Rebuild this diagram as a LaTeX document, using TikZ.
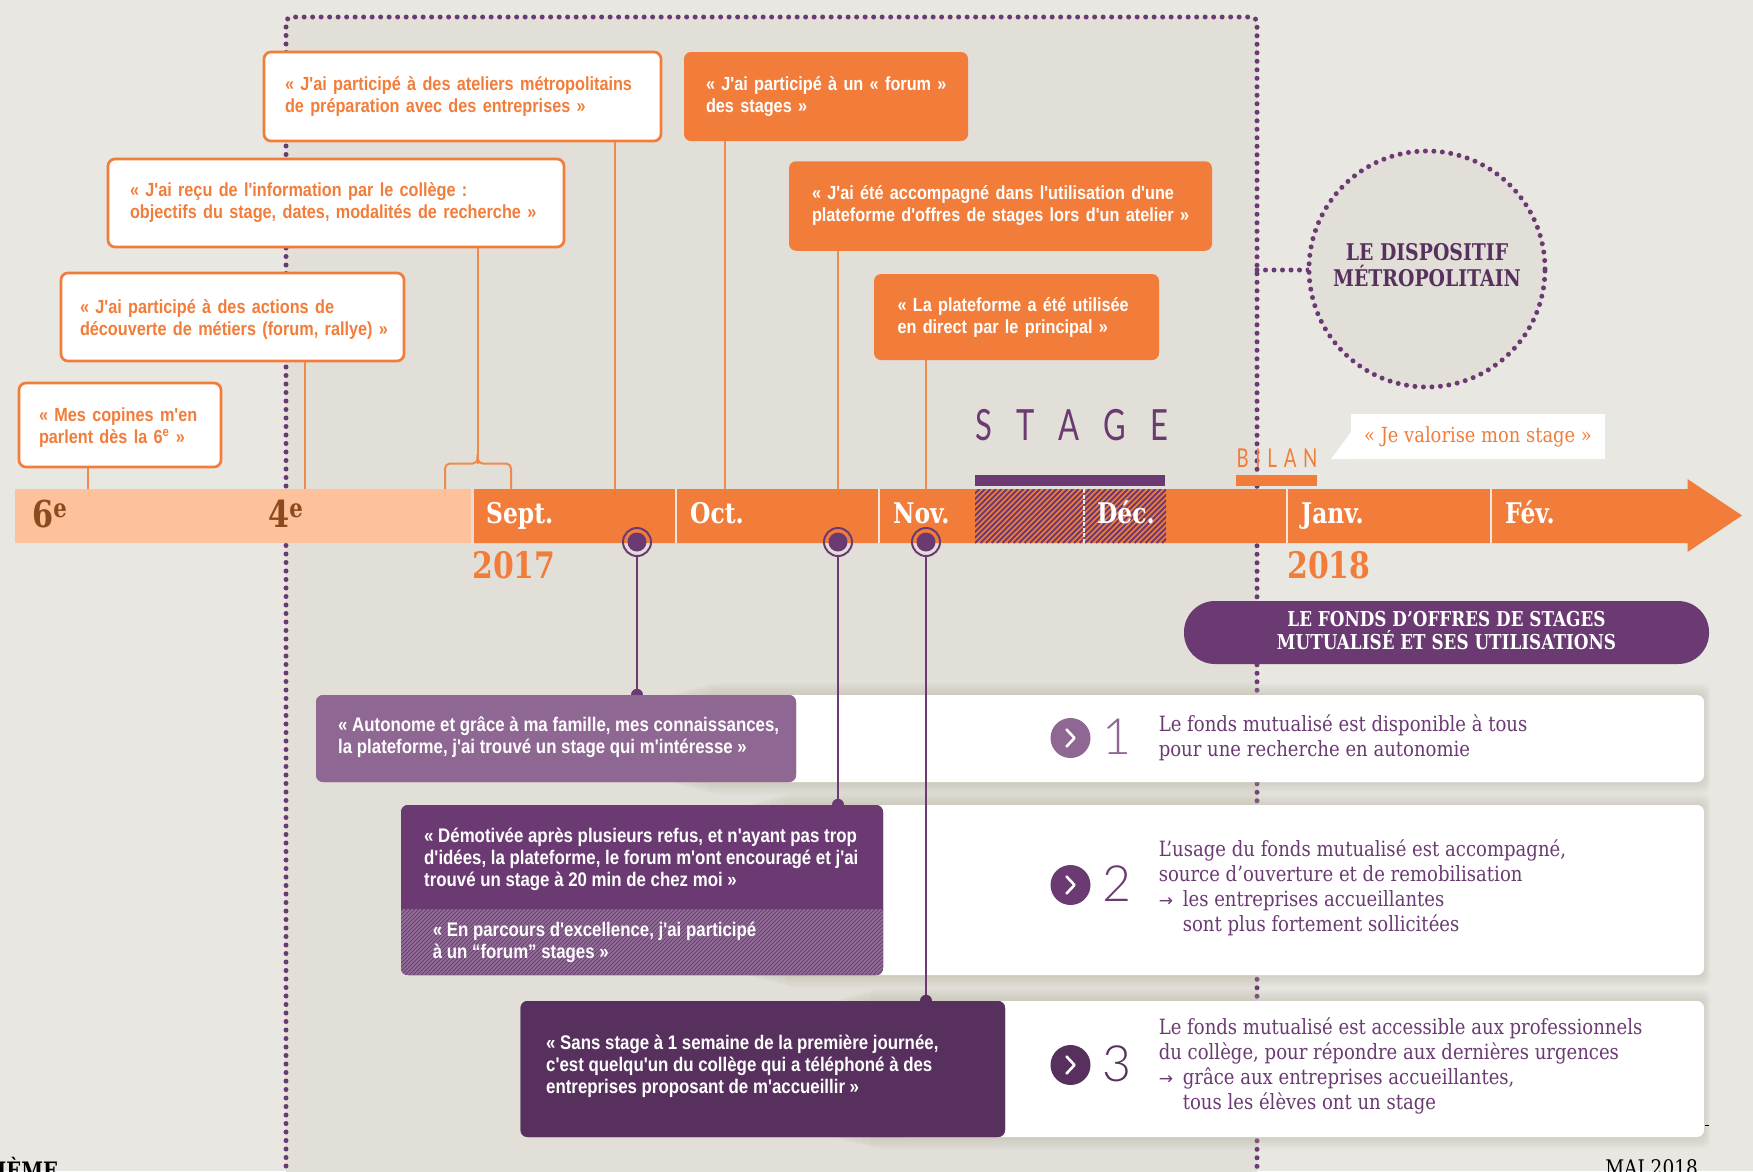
\documentclass[tikz,border=0pt]{standalone}
\usepackage{fontspec}
\newfontfamily\quotefont{Liberation Sans}[FakeStretch=0.855]
\newfontfamily\slabfont{DejaVu Serif}[FakeStretch=0.82]
\newfontfamily\cardfont{DejaVu Serif}[FakeStretch=0.86]
\newfontfamily\thinfont{Lato Light}
\newfontfamily\narrowfont{Lato}[FakeStretch=0.72]
\newfontfamily\arrowfont{DejaVu Sans}
\definecolor{pageBg}{HTML}{E8E7E2}
\definecolor{innerBg}{HTML}{E1DFD8}
\definecolor{barOrange}{HTML}{F27D3A}
\definecolor{barLight}{HTML}{FDC19B}
\definecolor{lineOrange}{HTML}{F08A4C}
\definecolor{brownText}{HTML}{8C4A1E}
\definecolor{purpleMain}{HTML}{6B3A72}
\definecolor{purpleDark}{HTML}{57305E}
\definecolor{purpleMid}{HTML}{8F6793}
\definecolor{purpleHatch}{HTML}{8F6C96}
\definecolor{shadowTone}{HTML}{B5B09C}
\tikzset{
  dotline/.style={purpleMain, line width=5, line cap=round, dash pattern=on 0pt off 8.5pt},
  wbox/.style={draw=barOrange, fill=white, line width=2.7, rounded corners=7, text=barOrange, align=left, font=\quotefont\bfseries\fontsize{19}{22}\selectfont},
  obox/.style={fill=barOrange, rounded corners=7, text=white, align=left, font=\quotefont\bfseries\fontsize{19}{22}\selectfont},
  pbox/.style={rounded corners=7, inner sep=0},
  ptext/.style={text=white, align=left, anchor=west, inner sep=0, font=\quotefont\bfseries\fontsize{19.7}{22}\selectfont},
  card/.style={fill=white, rounded corners=7, inner sep=0},
  cardtext/.style={text=purpleMain, align=left, anchor=west, inner sep=0, font=\cardfont\fontsize{21}{25}\selectfont},
  monthlabel/.style={text=white, anchor=base west, inner sep=0, font=\slabfont\bfseries\fontsize{28.5}{30}\selectfont},
  gradelabel/.style={text=brownText, anchor=base west, inner sep=0, font=\slabfont\bfseries\fontsize{37}{40}\selectfont},
  yearlabel/.style={text=barOrange, anchor=base west, inner sep=0, font=\slabfont\bfseries\fontsize{36.5}{40}\selectfont},
  orangeline/.style={lineOrange, line width=2},
  purpleline/.style={purpleMain, line width=2},
  ring/.style={circle, draw=purpleMain, line width=2, minimum size=28, inner sep=0},
  ringdot/.style={circle, fill=purpleMain, minimum size=19, inner sep=0},
  icon/.style={circle, minimum size=40, inner sep=0},
  chevron/.style={white, line width=2.6, line cap=round, line join=round}
}
\begin{document}
\begin{tikzpicture}[x=1pt,y=-1pt]
\clip (0,0) rectangle (1753,1171);
\fill[pageBg] (0,0) rectangle (1753,1171);
\fill[innerBg, rounded corners=6] (286,17) -- (1257,17) -- (1257,1200) -- (286,1200) -- cycle;
\draw[dotline, rounded corners=6] (286,1200) -- (286,17) -- (1257,17) -- (1257,1200);
% shadows then white cards
\foreach \xa/\ya/\yb in {660/695/782,737/805/975,822/1001/1137}
  \foreach \d in {2,4,...,12}
    \fill[shadowTone, opacity=0.07, rounded corners=8] (\xa+4*\d,\ya-\d) rectangle (1704+\d/2,\yb+\d);
\node[card, minimum width=1004, minimum height=87] (cardOne) at (1202,738.5) {};
\node[card, minimum width=904, minimum height=170] (cardTwo) at (1252,890) {};
\node[card, minimum width=804, minimum height=136] (cardThree) at (1302,1069) {};
% timeline
\fill[barLight] (15,489) rectangle (471,543);
\fill[barOrange] (474,489) -- (1687.5,489) -- (1687.5,479) -- (1742,515.5) -- (1687.5,552) -- (1687.5,543) -- (474,543) -- cycle;
\begin{scope}
\clip (975,489) rectangle (1166,543);
\foreach \x in {920,925.5,...,1170}
  \draw[purpleMain, line width=1.9] (\x,543) -- (\x+54,489);
\end{scope}
\foreach \x in {676,879,1287,1491}
  \draw[pageBg, line width=2.5] (\x,489) -- (\x,543);
\draw[pageBg, line width=2.5, dash pattern=on 4pt off 1.5pt] (1084,489) -- (1084,543);
\fill[purpleMain] (975,475) rectangle (1165,486);
\fill[barOrange] (1236,475) rectangle (1317,486);
\foreach \m/\x in {Sept./486,Oct./690,Nov./893,Déc./1097,Janv./1301,Fév./1505}
  \node[monthlabel] (m\x) at (\x,523) {\m};
\node[gradelabel] (gradeSix) at (32,527) {6\textsuperscript{e}};
\node[gradelabel] (gradeFour) at (268,527) {4\textsuperscript{e}};
\node[yearlabel] (yearA) at (472,578) {2017};
\node[yearlabel] (yearB) at (1287,578) {2018};
% orange quotes above the bar
\coordinate (tickD) at (88,489);
\coordinate (tickC) at (305,489);
\coordinate (tickBl) at (445,489);
\coordinate (tickBr) at (511,489);
\coordinate (braceB) at (477.7,463.5);
\coordinate (tickA) at (615,489);
\coordinate (tickF) at (725,489);
\coordinate (tickG) at (838,489);
\coordinate (tickH) at (926,489);
\node[wbox, minimum width=397, minimum height=89, inner xsep=21, text width=355] (boxA) at (462.5,96.5) {\mbox{« J'ai participé à des ateliers métropolitains}\\de préparation avec des entreprises »};
\node[wbox, minimum width=456, minimum height=88, inner xsep=22, text width=412] (boxB) at (336,203) {« J'ai reçu de l'information par le collège :\\\mbox{objectifs du stage, dates, modalités de recherche »}};
\node[wbox, minimum width=343, minimum height=88, inner xsep=19, text width=305] (boxC) at (232.5,317) {\rule{0pt}{18pt}« J'ai participé à des actions de\\\mbox{découverte de métiers (forum, rallye) »}};
\node[wbox, minimum width=202, minimum height=84, inner xsep=20, text width=162] (boxD) at (120,425) {\rule{0pt}{18pt}« Mes copines m'en\\parlent dès la 6\textsuperscript{e} »};
\node[obox, minimum width=284, minimum height=89, inner xsep=22, text width=240] (boxF) at (826,96.5) {\mbox{« J'ai participé à un « forum »}\\des stages »};
\node[obox, minimum width=423, minimum height=89.5, inner xsep=23, text width=377] (boxG) at (1000.5,206) {« J'ai été accompagné dans l'utilisation d'une\\\mbox{plateforme d'offres de stages lors d'un atelier »}};
\node[obox, minimum width=285, minimum height=86, inner xsep=23.5, text width=238] (boxH) at (1016.5,317) {« La plateforme a été utilisée\\en direct par le principal »};
\draw[orangeline] (boxD.south -| tickD) -- (tickD);
\draw[orangeline] (boxC.south -| tickC) -- (tickC);
\draw[orangeline] (boxA.south -| tickA) -- (tickA);
\draw[orangeline] (boxF.south -| tickF) -- (tickF);
\draw[orangeline] (boxG.south -| tickG) -- (tickG);
\draw[orangeline] (boxH.south -| tickH) -- (tickH);
\draw[orangeline] (boxB.south -| braceB) -- (braceB);
\draw[orangeline, rounded corners=5] (tickBl) -- (tickBl |- braceB) -- (braceB) -- ++(0,-9);
\draw[orangeline, rounded corners=5] (tickBr) -- (tickBr |- braceB) -- (braceB) -- ++(0,-9);
% stage and bilan
\node[inner sep=0, text=purpleMain, font=\narrowfont\fontsize{43}{45}\selectfont\addfontfeatures{LetterSpace=58}] (stageLabel) at (1072,425) {STAGE};
\node[inner sep=0, text=barOrange, font=\narrowfont\fontsize{26}{28}\selectfont\addfontfeatures{LetterSpace=26}] (bilanLabel) at (1277,458) {BILAN};
\node[fill=white, inner sep=0, minimum width=254, minimum height=45, text=barOrange, font=\cardfont\fontsize{20.8}{22}\selectfont] (callout) at (1478,436.5) {« Je valorise mon stage »};
\fill[white] (callout.west) ++(0,-4) -- (1331,459) -- (callout.south west) -- cycle;
% dispositif
\draw[dotline] (1257,270) -- (1310,270);
\node[circle, draw=purpleMain, fill=innerBg, line width=5, minimum size=236, inner sep=0, dash pattern=on 0pt off 8.5pt, line cap=round] (dispositif) at (1427,269) {};
\node[inner sep=0, align=center, text=purpleDark, font=\slabfont\bfseries\fontsize{23}{26}\selectfont] (dispositifText) at (1427,265.5) {LE DISPOSITIF\\MÉTROPOLITAIN};
% fonds
\node[fill=purpleMain, rounded corners=31, minimum width=525, minimum height=63, inner sep=0] (fondsPill) at (1446.5,632.5) {};
\node[inner sep=0, align=center, text=white, font=\slabfont\bfseries\fontsize{20.5}{23}\selectfont] (fondsText) at (1446.5,631) {LE FONDS D’OFFRES DE STAGES\\MUTUALISÉ ET SES UTILISATIONS};
% purple quotes
\node[ring] (ringA) at (637,542) {};
\node[ring] (ringB) at (838,542) {};
\node[ring] (ringC) at (926,542) {};
\node[ringdot] at (ringA) {};
\node[ringdot] at (ringB) {};
\node[ringdot] at (ringC) {};
\node[pbox, fill=purpleMid, minimum width=480, minimum height=87] (boxL) at (556,738.5) {};
\node[pbox, fill=purpleMain, minimum width=482, minimum height=170] (boxM) at (642,890) {};
\node[pbox, fill=purpleDark, minimum width=484.5, minimum height=136] (boxN) at (762.75,1069) {};
\draw[purpleline] (ringA) ++(0,14) -- (boxL.north -| ringA);
\draw[purpleline] (ringB) ++(0,14) -- (boxM.north -| ringB);
\draw[purpleline] (ringC) ++(0,14) -- (boxN.north -| ringC);
\fill[purpleMain] (boxL.north -| ringA) circle (6);
\fill[purpleMain] (boxM.north -| ringB) circle (6);
\fill[purpleDark] (boxN.north -| ringC) circle (6);
\node[pbox, fill=purpleMid, minimum width=480, minimum height=87] at (boxL) {};
\node[pbox, fill=purpleMain, minimum width=482, minimum height=170] at (boxM) {};
\node[pbox, fill=purpleDark, minimum width=484.5, minimum height=136] at (boxN) {};
\begin{scope}
\clip (401,909) [rounded corners=7] -- (401,975) -- (883,975) [sharp corners] -- (883,909) -- cycle;
\fill[purpleMain] (401,909) rectangle (883,975);
\foreach \x in {335,339,...,885}
  \draw[purpleHatch, line width=1.8] (\x,975) -- (\x+66,909);
\end{scope}
\node[ptext] (quoteL) at (338,737.5) {« Autonome et grâce à ma famille, mes connaissances,\\la plateforme, j'ai trouvé un stage qui m'intéresse »};
\node[ptext] (quoteM) at (424,859.5) {« Démotivée après plusieurs refus, et n'ayant pas trop\\d'idées, la plateforme, le forum m'ont encouragé et j'ai\\trouvé un stage à 20 min de chez moi »};
\node[ptext] (quoteK) at (432.6,942) {« En parcours d'excellence, j'ai participé\\à un “forum” stages »};
\node[ptext] (quoteN) at (546,1066) {« Sans stage à 1 semaine de la première journée,\\c'est quelqu'un du collège qui a téléphoné à des\\entreprises proposant de m'accueillir »};
% numbered cards
\foreach \n/\y/\c in {1/738/purpleMid,2/885/purpleMain,3/1065/purpleDark} {
  \node[icon, fill=\c] (icon\n) at (1070.5,\y) {};
  \draw[chevron] (icon\n) ++(-4,-8.5) -- ++(8,8.5) -- ++(-8,8.5);
  \node[inner sep=0, text=\c, font=\thinfont\fontsize{50}{50}\selectfont] (num\n) at (1117,\y-1) {\n};
}
\node[cardtext] (txtOne) at (1158.6,738) {Le fonds mutualisé est disponible à tous\\pour une recherche en autonomie};
\node[cardtext] (txtTwo) at (1158.6,888) {L’usage du fonds mutualisé est accompagné,\\source d’ouverture et de remobilisation\\\makebox[24pt][l]{\arrowfont\fontsize{17}{17}\selectfont →}les entreprises accueillantes\\\hspace*{24pt}sont plus fortement sollicitées};
\node[cardtext] (txtThree) at (1158.6,1065.5) {Le fonds mutualisé est accessible aux professionnels\\du collège, pour répondre aux dernières urgences\\\makebox[24pt][l]{\arrowfont\fontsize{17}{17}\selectfont →}grâce aux entreprises accueillantes,\\\hspace*{24pt}tous les élèves ont un stage};
\fill[black] (1705,1124.5) rectangle (1709,1125.5);
% cut off page footer
\node[anchor=base west, inner sep=0, font=\slabfont\bfseries\fontsize{24}{25}\selectfont] (footL) at (-3,1179) {IÈME};
\node[anchor=base east, inner sep=0, font=\cardfont\fontsize{21.5}{22}\selectfont] (footR) at (1698,1175) {MAI 2018};
\end{tikzpicture}
\end{document}
